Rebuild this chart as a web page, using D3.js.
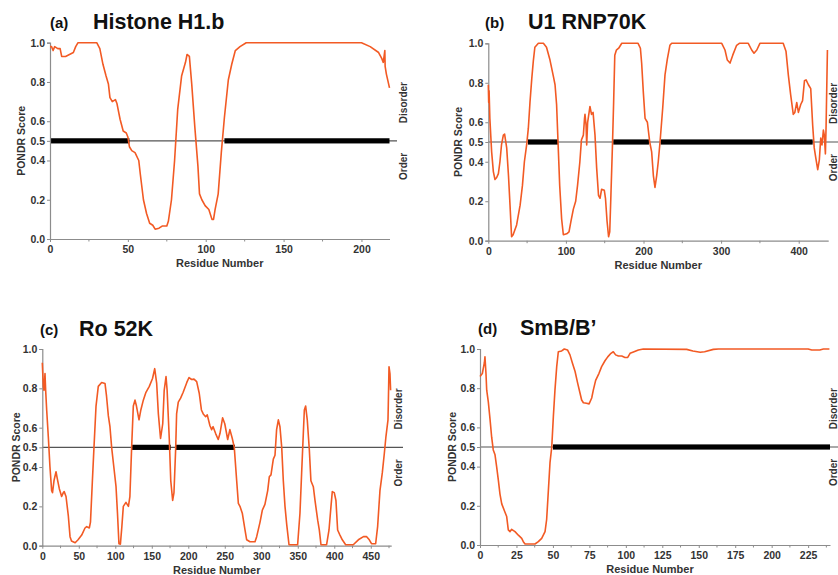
<!DOCTYPE html>
<html>
<head>
<meta charset="utf-8">
<script src="https://cdn.jsdelivr.net/npm/d3@7"></script>
<style>
  html, body { margin: 0; padding: 0; background: #fff; }
  svg text { font-family: "Liberation Sans", Arial, Helvetica, sans-serif; font-weight: bold; }
</style>
</head>
<body>
<svg id="chart" width="838" height="575"></svg>
<script>
// ---------- DATA ----------
const yTickValues = [0, 0.2, 0.4, 0.5, 0.6, 0.8, 1.0];
const threshold = 0.5;

// (a) Histone H1.b  [residue, PONDR score]
const histoneH1b = [[0,0.98],[1,0.98],[2,0.96],[3,0.98],[5,0.97],[6.5,0.97],[7.5,0.93],[10,0.93],[15,0.95],[16.5,0.98],[18,1.0],[30,1.0],[32,0.97],[34,0.89],[36,0.83],[37.5,0.79],[38.5,0.72],[40,0.70],[42,0.71],[43,0.69],[45,0.61],[47,0.55],[49,0.54],[50,0.52],[51,0.47],[52.5,0.45],[54.6,0.44],[57,0.40],[58,0.33],[60,0.20],[62,0.13],[64,0.08],[66,0.07],[67.5,0.05],[70,0.055],[72,0.066],[75,0.066],[76,0.09],[78,0.20],[80,0.40],[82,0.66],[84.5,0.83],[87,0.90],[88,0.94],[89.5,0.93],[91,0.79],[93,0.57],[95,0.37],[96,0.23],[97.5,0.20],[99.6,0.17],[102,0.15],[104,0.10],[105,0.10],[106,0.15],[108,0.23],[110,0.44],[112,0.62],[114.5,0.81],[116.7,0.89],[119,0.96],[122,0.98],[126,1.0],[200,1.0],[205.6,0.98],[211,0.95],[213,0.92],[214,0.90],[215,0.96],[215.2,0.88],[216,0.84],[218,0.77]];
const histoneBars = [[0,51],[112,218]];
const histoneXTicks = [0, 50, 100, 150, 200];

// (b) U1 RNP70K
const u1rnp70k = [[0,0.79],[0.5,0.70],[1,0.76],[2,0.62],[4.3,0.45],[6.5,0.35],[8.6,0.31],[10.8,0.32],[13,0.34],[15,0.40],[17,0.485],[19.4,0.535],[21,0.54],[23.7,0.47],[26,0.33],[28,0.18],[30,0.02],[32,0.03],[36.5,0.08],[41,0.18],[44,0.28],[46.5,0.40],[49.4,0.485],[51.6,0.57],[53.7,0.70],[56,0.82],[58,0.91],[60,0.98],[64.5,1.0],[71,1.0],[75,0.98],[79.5,0.915],[84,0.83],[86,0.79],[88,0.69],[90,0.485],[92,0.28],[94.5,0.11],[96.7,0.03],[101,0.035],[104,0.045],[106.6,0.10],[109.6,0.16],[112.6,0.20],[115,0.28],[118,0.40],[120,0.51],[122.5,0.535],[124,0.62],[124.6,0.64],[126,0.585],[126.8,0.485],[128,0.60],[131,0.68],[133,0.64],[135,0.65],[137.5,0.535],[139.6,0.37],[142,0.23],[144,0.215],[146,0.26],[149.5,0.255],[151,0.215],[153,0.10],[155,0.02],[156.5,0.045],[158,0.23],[160,0.485],[161.5,0.70],[163,0.94],[165,0.965],[168,0.975],[172,1.0],[193,1.0],[196,0.975],[197.6,0.90],[199.8,0.75],[202,0.62],[205,0.60],[208,0.50],[210.5,0.45],[212.7,0.33],[214.8,0.27],[217,0.33],[219,0.40],[221.3,0.50],[224.7,0.67],[227.7,0.84],[230.7,0.92],[234,0.99],[236.3,1.0],[300.8,1.0],[305,0.966],[308,0.915],[311.5,0.90],[315,0.94],[320,0.99],[323.5,1.0],[335,1.0],[339.4,0.966],[342.4,0.95],[346,0.966],[350,1.0],[380,1.0],[383.6,0.96],[386.6,0.84],[389.6,0.74],[393,0.64],[395,0.65],[397.5,0.70],[399.6,0.65],[402.6,0.69],[405,0.71],[407.4,0.81],[409.5,0.815],[412.5,0.79],[415.5,0.77],[418,0.585],[420,0.47],[422,0.42],[424.5,0.36],[426.6,0.41],[428.4,0.52],[430,0.485],[431.8,0.56],[433,0.535],[434.4,0.44],[435.3,0.585],[437,0.966]];
const u1Bars = [[51,90],[161,207],[222,418]];
const u1XTicks = [0, 100, 200, 300, 400];

// (c) Ro 52K
const ro52k = [[0,0.93],[1.4,0.81],[2.3,0.79],[3.7,0.875],[4.6,0.79],[6,0.69],[8.3,0.55],[10.5,0.40],[12.8,0.28],[14,0.27],[16,0.33],[18.8,0.376],[20.6,0.34],[23.3,0.29],[26.5,0.25],[28.8,0.27],[30,0.275],[32.5,0.25],[35.7,0.15],[38,0.046],[40,0.024],[45,0.015],[49,0.03],[54,0.054],[58.5,0.09],[60.8,0.097],[64.4,0.09],[66,0.12],[68.5,0.32],[70.8,0.50],[73.6,0.71],[76.7,0.81],[81.3,0.83],[85.9,0.825],[88,0.76],[90.5,0.66],[92.7,0.605],[95,0.50],[98,0.40],[101,0.30],[103,0.165],[105,0.01],[107,0.008],[109,0.097],[111,0.20],[114.6,0.22],[118,0.20],[120,0.25],[122.4,0.50],[124.7,0.71],[127,0.74],[129,0.71],[132.5,0.64],[135,0.69],[138.4,0.74],[142,0.78],[146.6,0.81],[151,0.85],[154,0.90],[156.7,0.825],[159,0.67],[162,0.545],[165,0.62],[167,0.79],[169.5,0.86],[171,0.79],[174,0.54],[176,0.33],[178.6,0.23],[180.4,0.27],[182.7,0.49],[184,0.67],[186.3,0.73],[189.5,0.75],[193,0.78],[198,0.83],[201,0.855],[204.6,0.845],[207.8,0.847],[211.5,0.834],[215,0.775],[218,0.69],[220.5,0.67],[223.8,0.656],[226,0.665],[229.7,0.61],[232,0.59],[234,0.605],[237.5,0.57],[241,0.54],[243.4,0.57],[247,0.65],[250,0.62],[254,0.54],[257,0.59],[260.3,0.545],[263,0.50],[266.3,0.33],[268.6,0.215],[270.8,0.20],[274,0.165],[277.7,0.08],[280,0.03],[284.5,0.02],[291.4,0.02],[293.7,0.046],[298.3,0.12],[301.4,0.18],[305,0.21],[308.8,0.28],[311,0.35],[313.3,0.36],[316.5,0.44],[318.8,0.46],[321,0.59],[323.4,0.64],[325.6,0.605],[328,0.50],[330.2,0.33],[332.5,0.20],[334.8,0.11],[338,0.005],[349.8,0.005],[353,0.165],[355.3,0.37],[357.6,0.57],[359,0.69],[360.8,0.71],[363,0.64],[365.8,0.49],[368,0.33],[371.3,0.30],[373.6,0.23],[377.3,0.13],[379.5,0.08],[381.8,0.005],[389.5,0.005],[392.8,0.08],[395.5,0.20],[397.3,0.275],[400,0.27],[402.3,0.23],[404.6,0.08],[407.8,0.054],[411,0.03],[415.6,0.005],[426,0.005],[433,0.03],[440,0.046],[444.4,0.046],[448,0.03],[451,0.01],[456.7,0.01],[459.4,0.097],[462.6,0.28],[465.8,0.37],[468.6,0.47],[470.8,0.555],[473.6,0.64],[474,0.71],[475,0.91],[476.3,0.875],[477.2,0.79]];
const roBars = [[123,176],[183,264]];
const roXTicks = [0, 50, 100, 150, 200, 250, 300, 350, 400, 450];

// (d) SmB/B'
const smbb = [[0,0.86],[1.6,0.875],[3,0.93],[3.4,0.96],[4.1,0.875],[4.6,0.79],[5.7,0.73],[6.9,0.64],[8,0.55],[9.1,0.485],[10.3,0.46],[11.4,0.40],[12.6,0.33],[13.7,0.26],[14.9,0.21],[17,0.17],[18.3,0.145],[19.4,0.077],[20.6,0.068],[21.7,0.08],[24,0.068],[26.3,0.05],[28.6,0.034],[29.7,0.017],[30.9,0.005],[37.7,0.005],[40,0.017],[42.3,0.034],[44.6,0.068],[45.7,0.13],[46.9,0.28],[48,0.42],[49.2,0.50],[50.3,0.655],[51.4,0.79],[52.6,0.91],[53.7,0.986],[56,0.99],[57.8,1.0],[60,0.995],[61.7,0.97],[63.3,0.93],[65.2,0.885],[67,0.825],[68.6,0.774],[69.7,0.74],[70.9,0.726],[73,0.723],[74.8,0.72],[76.6,0.75],[77.7,0.79],[79.3,0.84],[81.6,0.876],[83.4,0.91],[85.7,0.94],[87.6,0.96],[89.8,0.978],[91.4,0.986],[93,0.97],[94.9,0.964],[97.2,0.964],[99.4,0.957],[101.3,0.957],[102.9,0.978],[105.2,0.985],[108.6,0.995],[112,1.0],[141.7,0.998],[146,0.99],[151,0.983],[154,0.986],[160,0.998],[163.5,1.0],[225,1.0],[227.5,0.995],[233,0.995],[235.5,1.0],[239.6,1.0]];
const smbBars = [[50,240]];
const smbXTicks = [0, 25, 50, 75, 100, 125, 150, 175, 200, 225];

// ---------- DRAWING ----------
const svg = d3.select("#chart");
const LINE_COLOR = "#f25a24";
const AXIS_COLOR = "#8c8c8c";

function drawPanel(p) {
  const g = svg.append("g");
  const x = d3.scaleLinear().domain([0, p.maxRes]).range([p.x0, p.x1]);
  const y = d3.scaleLinear().domain([0, 1]).range([p.yBottom, p.yTop]);

  // threshold line
  g.append("line")
    .attr("x1", p.x0).attr("x2", p.threshEnd)
    .attr("y1", y(threshold)).attr("y2", y(threshold))
    .attr("stroke", "#555").attr("stroke-width", 1.1);

  // disorder bars
  g.selectAll("rect.bar").data(p.bars).enter().append("rect")
    .attr("class", "bar")
    .attr("x", d => x(d[0]))
    .attr("width", d => x(d[1]) - x(d[0]))
    .attr("y", y(threshold) - 2.6)
    .attr("height", 5.2)
    .attr("fill", "#000");

  // y axis
  const yAxis = d3.axisLeft(y).tickValues(yTickValues).tickFormat(d3.format(".1f")).tickSize(3).tickPadding(2);
  const ya = g.append("g").attr("transform", `translate(${p.x0},0)`).call(yAxis);
  ya.select(".domain").attr("stroke", AXIS_COLOR).attr("stroke-width", 1.2);
  ya.selectAll(".tick line").attr("stroke", AXIS_COLOR);
  ya.selectAll(".tick text").attr("font-size", 10.5).attr("fill", "#333")
    .style("font-family", "'Liberation Sans', Arial, sans-serif").style("font-weight", "bold");

  // x axis minor ticks
  const step = p.xTicks[1] - p.xTicks[0];
  const minor = d3.range(step / 2, p.maxRes, step);
  g.selectAll("line.minor").data(minor).enter().append("line")
    .attr("class", "minor")
    .attr("x1", d => x(d)).attr("x2", d => x(d))
    .attr("y1", p.yBottom).attr("y2", p.yBottom + 2.5)
    .attr("stroke", AXIS_COLOR);

  const xAxis = d3.axisBottom(x).tickValues(p.xTicks).tickFormat(d3.format("d")).tickSize(3).tickPadding(3.5).tickSizeOuter(0);
  const xa = g.append("g").attr("transform", `translate(0,${p.yBottom})`).call(xAxis);
  xa.select(".domain").attr("stroke", AXIS_COLOR).attr("stroke-width", 1.2);
  xa.selectAll(".tick line").attr("stroke", AXIS_COLOR);
  xa.selectAll(".tick text").attr("font-size", 10.5).attr("fill", "#333")
    .style("font-family", "'Liberation Sans', Arial, sans-serif").style("font-weight", "bold");

  // curve
  const line = d3.line().x(d => x(d[0])).y(d => y(d[1]));
  g.append("path").datum(p.data)
    .attr("d", line)
    .attr("fill", "none")
    .attr("stroke", LINE_COLOR)
    .attr("stroke-width", 1.6)
    .attr("stroke-linejoin", "round");

  // titles
  g.append("text").attr("x", p.labelX).attr("y", p.titleY - 1)
    .attr("font-size", 15).attr("fill", "#111").text(p.label);
  g.append("text").attr("x", p.titleX).attr("y", p.titleY)
    .attr("font-size", 21.5).attr("fill", "#111").text(p.title);

  // axis titles
  g.append("text").attr("x", (p.x0 + p.x1) / 2 + p.xTitleShift).attr("y", p.yBottom + 28)
    .attr("text-anchor", "middle").attr("font-size", 11).attr("fill", "#333").text("Residue Number");
  g.append("text")
    .attr("transform", `translate(${p.yTitleX},${(p.yTop + p.yBottom) / 2}) rotate(-90)`)
    .attr("text-anchor", "middle").attr("font-size", 10.5).attr("fill", "#333").text("PONDR Score");

  // Disorder / Order side labels
  g.append("text")
    .attr("transform", `translate(${p.sideX},${y(0.695)}) rotate(-90)`)
    .attr("text-anchor", "middle").attr("dy", "0.35em").attr("font-size", 10).attr("fill", "#333").text("Disorder");
  g.append("text")
    .attr("transform", `translate(${p.sideX},${y(0.37)}) rotate(-90)`)
    .attr("text-anchor", "middle").attr("dy", "0.35em").attr("font-size", 10).attr("fill", "#333").text("Order");
}

drawPanel({ data: histoneH1b, bars: histoneBars, xTicks: histoneXTicks, maxRes: 218,
  x0: 50, x1: 389.5, yTop: 42.7, yBottom: 239, threshEnd: 397,
  label: "(a)", labelX: 50, title: "Histone H1.b", titleX: 93, titleY: 29,
  yTitleX: 25, xTitleShift: 0, sideX: 403 });

drawPanel({ data: u1rnp70k, bars: u1Bars, xTicks: u1XTicks, maxRes: 438,
  x0: 488.3, x1: 828.2, yTop: 43.3, yBottom: 240.7, threshEnd: 838,
  label: "(b)", labelX: 485, title: "U1 RNP70K", titleX: 528, titleY: 29,
  yTitleX: 462, xTitleShift: 0, sideX: 833 });

drawPanel({ data: ro52k, bars: roBars, xTicks: roXTicks, maxRes: 478,
  x0: 42.3, x1: 391.2, yTop: 349, yBottom: 545.7, threshEnd: 403,
  label: "(c)", labelX: 40, title: "Ro 52K", titleX: 79, titleY: 336,
  yTitleX: 20, xTitleShift: 0, sideX: 398 });

drawPanel({ data: smbb, bars: smbBars, xTicks: smbXTicks, maxRes: 240,
  x0: 480, x1: 830, yTop: 349, yBottom: 545, threshEnd: 838,
  label: "(d)", labelX: 478, title: "SmB/B\u2019", titleX: 520, titleY: 335,
  yTitleX: 456, xTitleShift: -5, sideX: 833 });
</script>
</body>
</html>
